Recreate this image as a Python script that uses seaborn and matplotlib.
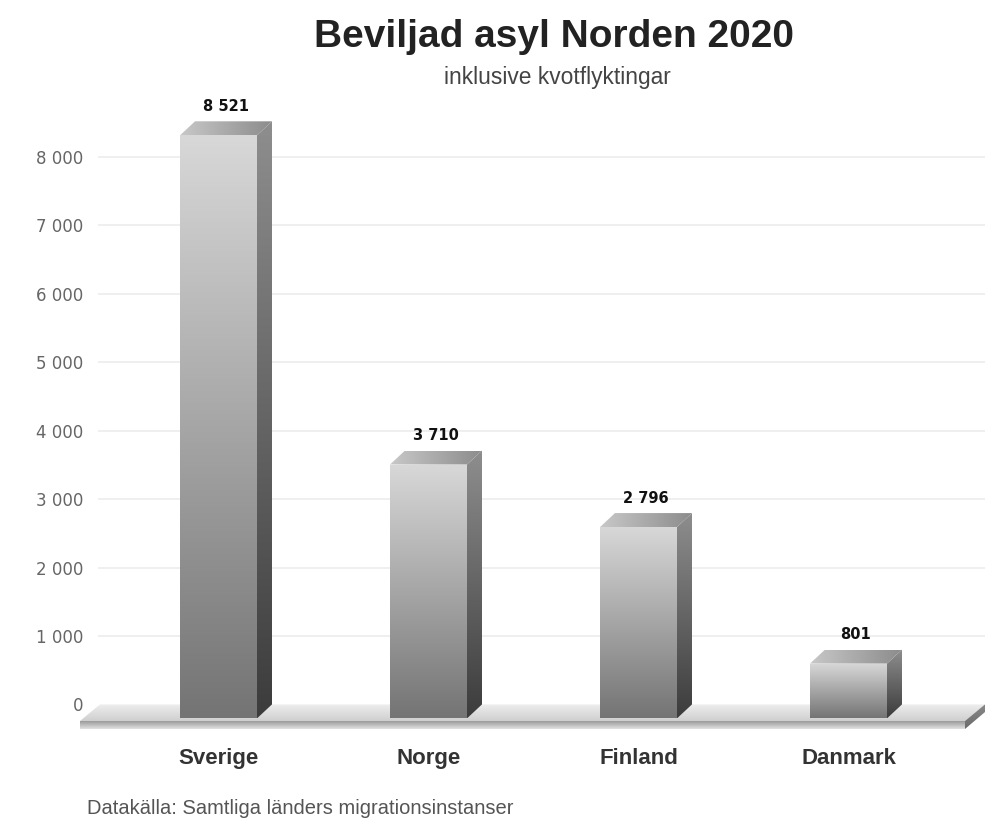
import numpy as np
import pandas as pd
import matplotlib
matplotlib.use("Agg")
import matplotlib.pyplot as plt
import seaborn as sns
from matplotlib.patches import Polygon

# ---------------- data ----------------
countries = ["Sverige", "Norge", "Finland", "Danmark"]
granted = [8521, 3710, 2796, 801]
value_labels = ["8 521", "3 710", "2 796", "801"]
yticks = [0, 1000, 2000, 3000, 4000, 5000, 6000, 7000, 8000]
ytick_labels = ["0", "1 000", "2 000", "3 000", "4 000", "5 000", "6 000", "7 000", "8 000"]
title = "Beviljad asyl Norden 2020"
subtitle = "inklusive kvotflyktingar"
source = "Datakälla: Samtliga länders migrationsinstanser"

# ---------------- layout (pixels) ----------------
W, H = 1004, 835
AX_L, AX_R, AX_T, AX_B = 78, 987, 100, 730
X0_PX, STEP_PX = 233.5, 210.0      # pixel of first category (back face centre), spacing
Y0_PX, PX_PER_1000 = 704.4, 68.43  # pixel of zero, pixels per 1000
BAR_W_PX = 77
DEPTH_X_PX, DEPTH_Y_PX = 15, 14


def dx(px):
    return px / STEP_PX


def dy(px):
    return px * 1000.0 / PX_PER_1000


def xdata(px):
    return (px - X0_PX) / STEP_PX


def ydata(py):
    return (Y0_PX - py) * 1000.0 / PX_PER_1000


sns.set_theme(style="white")
plt.rcParams["font.family"] = ["Liberation Sans", "DejaVu Sans"]

fig = plt.figure(figsize=(W / 100, H / 100), dpi=100)
fig.patch.set_facecolor("white")
ax = fig.add_axes([AX_L / W, (H - AX_B) / H, (AX_R - AX_L) / W, (AX_B - AX_T) / H])

df = pd.DataFrame({"land": countries, "antal": granted})
sns.barplot(data=df, x="land", y="antal", ax=ax, width=BAR_W_PX / STEP_PX,
            color="#999999", saturation=1)

xlim = (xdata(AX_L), xdata(AX_R))
ylim = (ydata(AX_B), ydata(AX_T))

# grid lines
ax.hlines(yticks[1:], xdata(98), xdata(985), color="#ececec", lw=1.2, zorder=0)


def grad_fill(poly_xy, c_start, c_end, direction="v", z=3, n=256):
    """Fill a polygon (data coords) with a linear grey gradient."""
    poly_xy = np.asarray(poly_xy)
    xmin, xmax = poly_xy[:, 0].min(), poly_xy[:, 0].max()
    ymin, ymax = poly_xy[:, 1].min(), poly_xy[:, 1].max()
    c0 = np.array(matplotlib.colors.to_rgb(c_start))
    c1 = np.array(matplotlib.colors.to_rgb(c_end))
    t = np.linspace(0, 1, n)
    cols = c0[None, :] * (1 - t[:, None]) + c1[None, :] * t[:, None]
    if direction == "v":   # c_start at top, c_end at bottom
        img = cols[:, None, :]
    else:                  # c_start at left, c_end at right
        img = cols[None, :, :]
    im = ax.imshow(img, extent=(xmin, xmax, ymin, ymax), origin="upper",
                   aspect="auto", zorder=z, interpolation="bilinear")
    clip = Polygon(poly_xy, closed=True, transform=ax.transData, facecolor="none",
                   edgecolor="none")
    im.set_clip_path(clip)
    return im


# floor slab
fb_l, fb_r = xdata(100), xdata(985)
ff_l, ff_r = xdata(80), xdata(965)
y_back, y_front, y_bot = 0.0, ydata(721), ydata(729)
y_rb = ydata(712)
grad_fill([(fb_l, y_back), (fb_r, y_back), (ff_r, y_front), (ff_l, y_front)],
          "#eeeeee", "#cfcfcf", "v", z=1)
grad_fill([(ff_l, y_front), (ff_r, y_front), (ff_r, y_bot), (ff_l, y_bot)],
          "#9a9a9a", "#e2e2e2", "v", z=1)
grad_fill([(ff_r, y_front), (fb_r, y_back), (fb_r, y_rb), (ff_r, y_bot)],
          "#8a8a8a", "#6a6a6a", "v", z=1)

# 3D bars built from seaborn's bar rectangles (back faces)
ddx, ddy = dx(DEPTH_X_PX), dy(DEPTH_Y_PX)
for p, lab in zip(ax.patches, value_labels):
    x0, w, h = p.get_x(), p.get_width(), p.get_height()
    p.set_visible(False)
    # front face
    front = [(x0 - ddx, -ddy), (x0 + w - ddx, -ddy), (x0 + w - ddx, h - ddy), (x0 - ddx, h - ddy)]
    grad_fill(front, "#d8d8d8", "#747474", "v", z=4)
    # side face
    side = [(x0 + w - ddx, -ddy), (x0 + w, 0), (x0 + w, h), (x0 + w - ddx, h - ddy)]
    grad_fill(side, "#8e8e8e", "#3c3c3c", "v", z=4)
    # top face
    top = [(x0 - ddx, h - ddy), (x0 + w - ddx, h - ddy), (x0 + w, h), (x0, h)]
    grad_fill(top, "#c8c8c8", "#8c8c8c", "h", z=4)
    # value label
    ax.text(x0 + w / 2 - ddx / 2, h + dy(15), lab, ha="center", va="center",
            fontsize=10.5, fontweight="bold", color="#111111",
            family=["DejaVu Sans"], zorder=6)

ax.set_xlim(*xlim)
ax.set_ylim(*ylim)

# axes ticks
ax.set_xticks(np.arange(len(countries)) - ddx, labels=countries)
ax.set_yticks(yticks, labels=ytick_labels)
ax.tick_params(axis="x", length=0, pad=13, labelsize=16, labelcolor="#333333")
ax.tick_params(axis="y", length=0, pad=-3.6, labelsize=12, labelcolor="#666666")
for t in ax.get_xticklabels():
    t.set_fontweight("bold")
    t.set_family(["Liberation Sans", "DejaVu Sans"])
for t in ax.get_yticklabels():
    t.set_family(["DejaVu Sans"])
ax.set_xlabel("")
ax.set_ylabel("")
for s in ax.spines.values():
    s.set_visible(False)
ax.set_facecolor("none")
ax.grid(False)

# titles and source
fig.text(554.5 / W, 1 - 47 / H, title, ha="center", va="baseline", fontsize=28,
         fontweight="bold", color="#222222")
fig.text(557 / W, 1 - 84 / H, subtitle, ha="center", va="baseline", fontsize=16.4,
         color="#444444")
fig.text(87 / W, 1 - 814 / H, source, ha="left", va="baseline", fontsize=14.5,
         color="#555555")

fig.savefig("out.png", dpi=100, facecolor="white")
